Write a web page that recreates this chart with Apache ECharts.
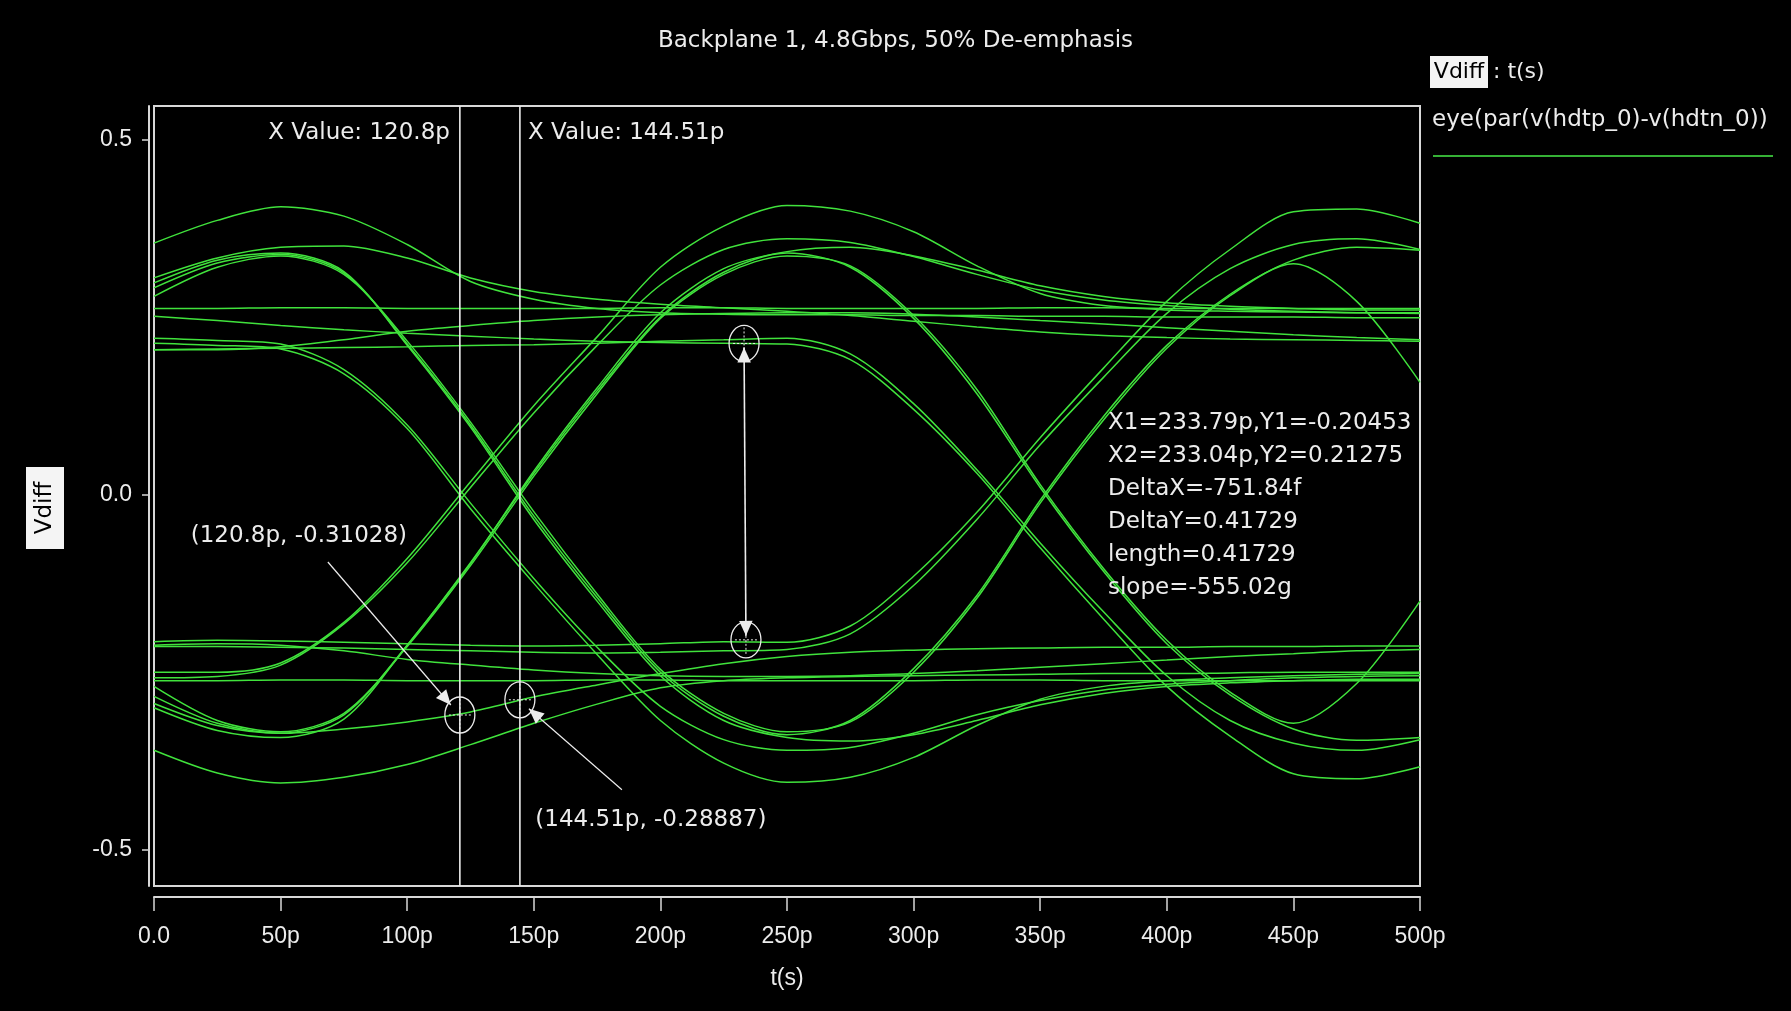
<!DOCTYPE html>
<html>
<head>
<meta charset="utf-8">
<title>Backplane 1, 4.8Gbps, 50% De-emphasis</title>
<script src="https://cdn.jsdelivr.net/npm/echarts@6/dist/echarts.min.js"></script>
<style>
    html, body {margin: 0; padding: 0; background: #000;}
    #eye {width: 1791px; height: 1011px;}
</style>
</head>
<body>
<div id="eye"></div>
<script>
// sample instants (ps) shared by every trace of the eye
var times = [0, 25, 50, 75, 100, 125, 150, 175, 200, 225, 250, 275, 300, 325, 350, 375, 400, 425, 450, 475, 500];

// eye traces, Vdiff (V) at each sample instant
var trTopArc = [0.354, 0.386, 0.405, 0.392, 0.352, 0.300, 0.275, 0.262, 0.256, 0.254, 0.253, 0.253, 0.252, 0.252, 0.251, 0.251, 0.250, 0.250, 0.250, 0.249, 0.249];
var trSecondArc = [0.305, 0.333, 0.348, 0.350, 0.333, 0.305, 0.286, 0.275, 0.268, 0.263, 0.258, 0.252, 0.244, 0.236, 0.229, 0.224, 0.221, 0.219, 0.218, 0.217, 0.216];
var trAltA = [0.291, 0.326, 0.338, 0.312, 0.212, 0.098, -0.030, -0.145, -0.250, -0.312, -0.338, -0.318, -0.245, -0.142, -0.008, 0.110, 0.210, 0.282, 0.330, 0.348, 0.344];
var trAltB = [0.279, 0.320, 0.336, 0.310, 0.216, 0.102, -0.024, -0.140, -0.246, -0.308, -0.334, -0.320, -0.250, -0.146, -0.012, 0.105, 0.206, 0.280, 0.325, 0.272, 0.158];
var trAltHold = [0.298, 0.330, 0.340, 0.314, 0.210, 0.095, -0.035, -0.150, -0.255, -0.318, -0.342, -0.347, -0.338, -0.318, -0.296, -0.280, -0.270, -0.265, -0.262, -0.260, -0.260];
var trRiseA = [-0.250, -0.250, -0.237, -0.180, -0.090, 0.018, 0.125, 0.222, 0.320, 0.378, 0.407, 0.399, 0.370, 0.322, 0.283, 0.266, 0.260, 0.258, 0.257, 0.256, 0.256];
var trRiseB = [-0.258, -0.256, -0.240, -0.182, -0.096, 0.010, 0.115, 0.210, 0.295, 0.345, 0.360, 0.355, 0.335, 0.310, 0.288, 0.274, 0.266, 0.261, 0.258, 0.256, 0.255];
var trFallA = [0.213, 0.210, 0.205, 0.170, 0.093, -0.020, -0.125, -0.225, -0.318, -0.378, -0.405, -0.398, -0.370, -0.325, -0.288, -0.270, -0.262, -0.258, -0.255, -0.253, -0.252];
var trFallB = [0.220, 0.217, 0.212, 0.176, 0.098, -0.012, -0.118, -0.215, -0.298, -0.345, -0.360, -0.356, -0.336, -0.310, -0.290, -0.275, -0.267, -0.262, -0.258, -0.256, -0.255];
var trLateRiseA = [-0.207, -0.205, -0.206, -0.208, -0.210, -0.212, -0.213, -0.212, -0.210, -0.207, -0.208, -0.185, -0.115, -0.025, 0.080, 0.178, 0.272, 0.345, 0.398, 0.402, 0.382];
var trLateRiseB = [-0.214, -0.214, -0.215, -0.216, -0.218, -0.220, -0.222, -0.223, -0.222, -0.220, -0.218, -0.196, -0.128, -0.035, 0.070, 0.165, 0.255, 0.318, 0.352, 0.360, 0.345];
var trLateFallA = [0.251, 0.245, 0.238, 0.232, 0.227, 0.223, 0.219, 0.216, 0.214, 0.213, 0.212, 0.190, 0.120, 0.030, -0.075, -0.175, -0.270, -0.340, -0.393, -0.400, -0.383];
var trLateFallB = [0.204, 0.205, 0.206, 0.207, 0.208, 0.210, 0.211, 0.213, 0.216, 0.218, 0.220, 0.198, 0.128, 0.035, -0.068, -0.165, -0.255, -0.318, -0.350, -0.360, -0.345];
var trHighSettle = [0.204, 0.204, 0.208, 0.218, 0.230, 0.238, 0.245, 0.250, 0.253, 0.255, 0.256, 0.256, 0.254, 0.250, 0.245, 0.240, 0.235, 0.230, 0.225, 0.221, 0.218];
var trHighFlat = [0.262, 0.262, 0.263, 0.263, 0.262, 0.262, 0.262, 0.262, 0.263, 0.263, 0.262, 0.262, 0.262, 0.262, 0.263, 0.263, 0.262, 0.262, 0.262, 0.262, 0.262];
var trBottomArc = [-0.360, -0.392, -0.406, -0.398, -0.380, -0.352, -0.322, -0.295, -0.272, -0.262, -0.258, -0.256, -0.255, -0.254, -0.253, -0.252, -0.252, -0.251, -0.250, -0.250, -0.250];
var trLowSecond = [-0.294, -0.325, -0.336, -0.330, -0.320, -0.306, -0.285, -0.268, -0.252, -0.238, -0.228, -0.222, -0.219, -0.217, -0.216, -0.215, -0.215, -0.214, -0.214, -0.213, -0.213];
var trLowAltA = [-0.284, -0.322, -0.336, -0.310, -0.212, -0.096, 0.030, 0.146, 0.250, 0.313, 0.340, 0.320, 0.248, 0.142, 0.010, -0.108, -0.210, -0.282, -0.330, -0.346, -0.342];
var trLowAltB = [-0.270, -0.318, -0.334, -0.308, -0.214, -0.100, 0.026, 0.142, 0.248, 0.310, 0.336, 0.322, 0.252, 0.148, 0.014, -0.104, -0.205, -0.278, -0.322, -0.266, -0.150];
var trLowAltHold = [-0.300, -0.332, -0.342, -0.316, -0.212, -0.097, 0.033, 0.150, 0.256, 0.318, 0.342, 0.348, 0.336, 0.316, 0.294, 0.279, 0.270, 0.265, 0.262, 0.260, 0.260];
var trLowSettle = [-0.212, -0.210, -0.212, -0.220, -0.232, -0.240, -0.247, -0.252, -0.255, -0.256, -0.256, -0.255, -0.252, -0.248, -0.243, -0.238, -0.233, -0.228, -0.224, -0.220, -0.218];
var trLowFlat = [-0.262, -0.262, -0.261, -0.261, -0.262, -0.262, -0.262, -0.261, -0.261, -0.262, -0.262, -0.262, -0.262, -0.261, -0.261, -0.262, -0.262, -0.262, -0.262, -0.262, -0.262];

var traces = [trTopArc, trSecondArc, trAltA, trAltB, trAltHold, trRiseA, trRiseB, trFallA, trFallB,
    trLateRiseA, trLateRiseB, trLateFallA, trLateFallB, trHighSettle, trHighFlat,
    trBottomArc, trLowSecond, trLowAltA, trLowAltB, trLowAltHold, trLowSettle, trLowFlat];

// axis ticks
var xTicks = [0, 50, 100, 150, 200, 250, 300, 350, 400, 450, 500];
var yTicks = [-0.5, 0, 0.5];
var yMin = -0.551, yMax = 0.547;

// cursors and measurement readouts
var cursorX = [120.8, 144.51];
var pointA = [120.8, -0.31028];
var pointB = [144.51, -0.28887];
var measLow = [233.79, -0.20453];
var measHigh = [233.04, 0.21275];
var measLines = ['X1=233.79p,Y1=-0.20453', 'X2=233.04p,Y2=0.21275', 'DeltaX=-751.84f',
    'DeltaY=0.41729', 'length=0.41729', 'slope=-555.02g'];

var traceName = 'eye(par(v(hdtp_0)-v(hdtn_0))';
var green = '#40e23c';
var white = '#ececec';
var wide = '"DejaVu Sans", sans-serif';
var narrow = '"Liberation Sans Narrow", "Liberation Sans", sans-serif';

var series = traces.map(function (tr) {
    return {
        name: traceName,
        type: 'line',
        data: times.map(function (t, i) { return [t, tr[i]]; }),
        showSymbol: false,
        smooth: 0.3,
        silent: true,
        lineStyle: {color: green, width: 1.5}
    };
});

var chart = echarts.init(document.getElementById('eye'));
chart.setOption({
    backgroundColor: '#000',
    animation: false,
    title: {
        text: 'Backplane 1, 4.8Gbps, 50% De-emphasis',
        left: 'center', top: 25,
        textStyle: {color: white, fontSize: 23, fontWeight: 'normal', fontFamily: wide}
    },
    grid: {
        left: 154, right: 371, top: 106, bottom: 125,
        show: true, borderColor: '#d8d8d8', borderWidth: 2,
        outerBoundsMode: 'none'
    },
    xAxis: {
        type: 'value', min: 0, max: 500, interval: 50, offset: 11,
        name: 't(s)', nameLocation: 'middle', nameGap: 70,
        nameTextStyle: {color: white, fontSize: 23, fontFamily: narrow},
        axisLine: {show: true, onZero: false, lineStyle: {color: '#d8d8d8', width: 2}},
        axisTick: {show: true, length: 14, lineStyle: {color: '#d8d8d8', width: 1.5}},
        axisLabel: {
            color: white, fontSize: 23, fontFamily: narrow, margin: 28,
            customValues: xTicks,
            formatter: function (v) { return v === 0 ? '0.0' : v + 'p'; }
        },
        splitLine: {show: false}
    },
    yAxis: {
        type: 'value', min: yMin, max: yMax, offset: 5,
        axisLine: {show: true, onZero: false, lineStyle: {color: '#d8d8d8', width: 2}},
        axisTick: {show: true, length: 7, customValues: yTicks, lineStyle: {color: '#d8d8d8', width: 1.5}},
        axisLabel: {
            color: white, fontSize: 23, fontFamily: narrow, margin: 17,
            customValues: yTicks,
            formatter: function (v) { return v.toFixed(1); }
        },
        splitLine: {show: false}
    },
    series: series
});

// overlay: cursors, markers, readouts, legend
function px(t, v) { return chart.convertToPixel({gridIndex: 0}, [t, v]); }

function txt(s, x, y, align, fill, font) {
    return {type: 'text', silent: true, z: 20, style: {
        text: s, x: x, y: y, fill: fill || white, font: font || ('23px ' + wide),
        textAlign: align || 'left', textVerticalAlign: 'middle'
    }};
}

function seg(a, b, w, dash) {
    return {type: 'line', silent: true, z: 20,
        shape: {x1: a[0], y1: a[1], x2: b[0], y2: b[1]},
        style: {stroke: white, lineWidth: w || 1.2, lineDash: dash || null}};
}

function head(tip, from, size) {
    var dx = tip[0] - from[0], dy = tip[1] - from[1], len = Math.sqrt(dx * dx + dy * dy);
    var ux = dx / len, uy = dy / len, bx = tip[0] - ux * size, by = tip[1] - uy * size, w = size * 0.45;
    return {type: 'polygon', silent: true, z: 21,
        shape: {points: [tip, [bx - uy * w, by + ux * w], [bx + uy * w, by - ux * w]]},
        style: {fill: white}};
}

function marker(c) {
    return [
        {type: 'ellipse', silent: true, z: 20, shape: {cx: c[0], cy: c[1], rx: 15, ry: 18},
            style: {fill: 'none', stroke: white, lineWidth: 1.3}},
        seg([c[0] - 11, c[1]], [c[0] + 11, c[1]], 1, [2, 2]),
        seg([c[0], c[1] - 16], [c[0], c[1] + 16], 1, [2, 2])
    ];
}

var gTop = px(0, yMax)[1], gBot = px(0, yMin)[1];
var g = [];

cursorX.forEach(function (cx, i) {
    var x = px(cx, 0)[0];
    g.push(seg([x, gTop], [x, gBot], 1.6));
    g.push(i === 0 ? txt('X Value: ' + cx + 'p', x - 10, gTop + 27, 'right')
                   : txt('X Value: ' + cx + 'p', x + 8, gTop + 27, 'left'));
});

var mA = px(pointA[0], pointA[1]), mB = px(pointB[0], pointB[1]);
var mL = px(measLow[0], measLow[1]), mH = px(measHigh[0], measHigh[1]);
[mA, mB, mL, mH].forEach(function (m) { g = g.concat(marker(m)); });

// point readouts with leader arrows
var aFrom = [mA[0] - 132, mA[1] - 153], aTip = [mA[0] - 9, mA[1] - 10];
g.push(seg(aFrom, aTip, 1.2), head(aTip, aFrom, 15));
g.push(txt('(' + pointA[0] + 'p, ' + pointA[1] + ')', mA[0] - 161, mA[1] - 179, 'center'));
var bFrom = [mB[0] + 102, mB[1] + 90], bTip = [mB[0] + 9, mB[1] + 9];
g.push(seg(bFrom, bTip, 1.2), head(bTip, bFrom, 15));
g.push(txt('(' + pointB[0] + 'p, ' + pointB[1] + ')', mB[0] + 131, mB[1] + 120, 'center'));

// vertical eye-height measurement
var hTip = [mH[0], mH[1] + 4], lTip = [mL[0], mL[1] - 4];
g.push(seg(hTip, lTip, 1.6), head(hTip, lTip, 15), head(lTip, hTip, 15));
measLines.forEach(function (s, i) {
    g.push(txt(s, 1108, 423 + i * 33, 'left', white, '23px ' + wide));
});

// y axis name in a white box
g.push({type: 'group', x: 45, y: 508, rotation: Math.PI / 2, silent: true, children: [
    {type: 'rect', shape: {x: -41, y: -19, width: 82, height: 38}, style: {fill: '#f4f4f4'}},
    {type: 'text', style: {text: 'Vdiff', x: 0, y: 0, fill: '#000', font: '23px ' + wide,
        textAlign: 'center', textVerticalAlign: 'middle'}}
]});

// legend block on the right
g.push({type: 'rect', silent: true, shape: {x: 1430, y: 56, width: 58, height: 32}, style: {fill: '#f4f4f4'}});
g.push(txt('Vdiff', 1459, 72, 'center', '#000', '22px ' + wide));
g.push(txt(': t(s)', 1493, 72, 'left', white, '22px ' + wide));
g.push(txt(traceName, 1432, 120, 'left', white, '23px ' + wide));
g.push({type: 'line', silent: true, shape: {x1: 1433, y1: 156, x2: 1773, y2: 156},
    style: {stroke: '#35b035', lineWidth: 2.2}});

chart.setOption({graphic: g});
</script>
</body>
</html>
